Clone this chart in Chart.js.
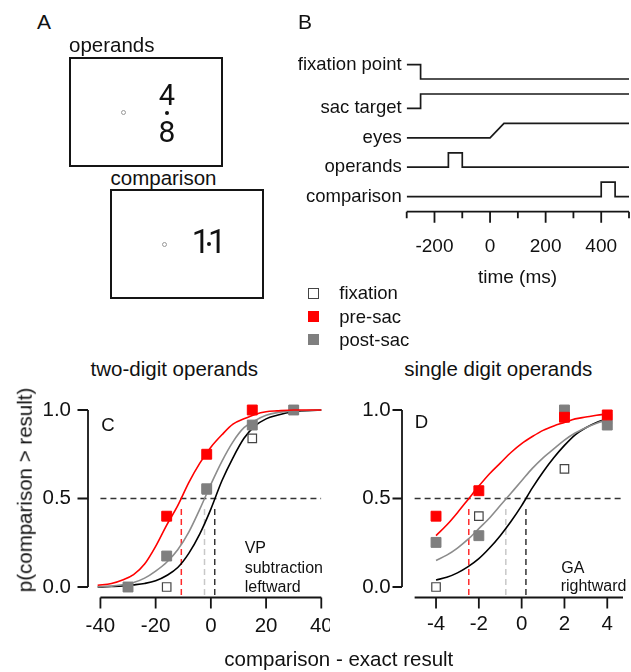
<!DOCTYPE html>
<html>
<head>
<meta charset="utf-8">
<script src="https://cdn.jsdelivr.net/npm/chart.js@4.4.1/dist/chart.umd.min.js"></script>
<style>
  html, body { margin: 0; padding: 0; background: #fff; }
  #page { position: relative; width: 631px; height: 672px; overflow: hidden;
          font-family: "Liberation Sans", Arial, Helvetica, sans-serif; color: #111; }
  #page canvas { position: absolute; }
  .txt { position: absolute; white-space: nowrap; line-height: 1; }
  .digits { font-family: Roboto, "Liberation Sans", sans-serif; }
  .box { position: absolute; border: 2px solid #151515; box-sizing: border-box; }
  .fix { position: absolute; width: 5px; height: 5px; border: 1px solid #999; border-radius: 50%; box-sizing: border-box; }
  .dot { position: absolute; width: 4px; height: 4px; background: #111; border-radius: 50%; }
  .sq { position: absolute; width: 11px; height: 11px; box-sizing: border-box; }
</style>
</head>
<body>
<div id="page">
  <div class="box" style="left:69px; top:57px; width:154px; height:110px;"></div>
  <div class="fix" style="left:121px; top:110px;"></div>
  <div class="dot" style="left:165px; top:111px;"></div>
  <div class="box" style="left:110px; top:189px; width:154px; height:110px;"></div>
  <div class="fix" style="left:162px; top:242px;"></div>
  <div class="dot" style="left:207px; top:242px;"></div>

  <div class="sq" style="left:308px; top:288px; border:1px solid #444; background:#fff;"></div>
  <div class="sq" style="left:308px; top:311px; background:#ff0000;"></div>
  <div class="sq" style="left:308px; top:334px; background:#7f7f7f;"></div>

  <canvas id="chartB" width="351" height="260" style="left:280px; top:30px;"></canvas>
  <canvas id="chartC" width="330" height="250" style="left:0px; top:400px;"></canvas>
  <canvas id="chartD" width="301" height="250" style="left:330px; top:400px;"></canvas>
</div>
<script>
// panel B: timing of each signal (ms) and its on/off state
const signalNames = ['fixation point', 'sac target', 'eyes', 'operands', 'comparison'];
const signalTimes = [
  [-300, -250, -250, 500],
  [-300, -250, -250, 500],
  [-300, 0, 50, 500],
  [-300, -150, -150, -100, -100, 500],
  [-300, 400, 400, 450, 450, 500]
];
const signalStates = [
  [1, 1, 0, 0],
  [0, 0, 1, 1],
  [0, 0, 1, 1],
  [0, 0, 1, 1, 0, 0],
  [0, 0, 1, 1, 0, 0]
];
const timeTicks = [-300, -200, -100, 0, 100, 200, 300, 400, 500];
const timeLabels = [-200, 0, 200, 400];

// panel C: two-digit operands
const diffC = [-30, -16, -1.5, 15, 30];
const fixC = [0.0, 0.0, 0.55, 0.84, 1.0];
const preC = [null, 0.40, 0.75, 1.0, null];
const postC = [0.0, 0.175, 0.555, 0.915, 1.0];
const fitXC = [-41, -36, -32, -28, -24, -20, -16, -12, -8, -4, 0, 4, 8, 12, 16, 20, 24, 30, 40];
const fitFixC = [0.0, 0.003, 0.006, 0.012, 0.02, 0.035, 0.065, 0.11, 0.19, 0.30, 0.44, 0.60, 0.73, 0.84, 0.91, 0.95, 0.97, 0.99, 1.0];
const fitPostC = [0.002, 0.005, 0.013, 0.025, 0.05, 0.09, 0.14, 0.21, 0.31, 0.44, 0.58, 0.71, 0.82, 0.90, 0.94, 0.97, 0.985, 0.995, 1.0];
const fitPreC = [0.01, 0.02, 0.04, 0.07, 0.13, 0.23, 0.35, 0.46, 0.59, 0.70, 0.79, 0.86, 0.92, 0.95, 0.975, 0.99, 0.995, 1.0, 1.0];
const pseC = [1.4, -10.7, -2.3]; // fixation, pre-sac, post-sac
const xTicksC = [-40, -20, 0, 20, 40];

// panel D: single digit operands
const diffD = [-4, -2, 2, 4];
const fixD = [0.0, 0.40, 0.667, 0.95];
const preD = [0.40, 0.544, 0.959, 0.972];
const postD = [0.252, 0.29, 1.0, 0.915];
const fitXD = [-4, -3.5, -3, -2.5, -2, -1.5, -1, -0.5, 0, 0.5, 1, 1.5, 2, 2.5, 3, 3.5, 4];
const fitFixD = [0.04, 0.055, 0.08, 0.115, 0.16, 0.22, 0.29, 0.37, 0.46, 0.56, 0.65, 0.73, 0.80, 0.86, 0.90, 0.93, 0.95];
const fitPostD = [0.15, 0.18, 0.22, 0.27, 0.33, 0.39, 0.46, 0.53, 0.60, 0.67, 0.73, 0.78, 0.83, 0.87, 0.90, 0.925, 0.945];
const fitPreD = [0.29, 0.35, 0.42, 0.495, 0.57, 0.64, 0.70, 0.76, 0.81, 0.85, 0.885, 0.91, 0.93, 0.95, 0.96, 0.97, 0.978];
const pseD = [0.2, -2.47, -0.74];
const xTicksD = [-4, -2, 0, 2, 4];

const pTicks = [0, 0.5, 1];
const chance = 0.5;

const page = document.getElementById('page');

// text placed by its baseline; centred text sits in a fixed box so no transform is needed
function label(text, x, base, size, align, cls, extra) {
  const d = document.createElement('div');
  d.className = 'txt' + (cls ? ' ' + cls : '');
  d.textContent = text;
  d.style.fontSize = size + 'px';
  d.style.top = (base - 0.8465 * size) + 'px';
  if (align == 'center') {
    d.style.left = (x - 200) + 'px';
    d.style.width = '400px';
    d.style.textAlign = 'center';
  } else {
    d.style.left = x + 'px';
  }
  if (extra) Object.assign(d.style, extra);
  page.appendChild(d);
  return d;
}

label('A', 37, 28.3, 21);
label('B', 298, 28.3, 21);
label('operands', 69, 52, 20.5);
label('4', 167, 106, 29, 'center', 'digits');
label('8', 167, 142, 30, 'center', 'digits');
label('comparison', 110.5, 185, 20.5);
label('11', 208, 253.5, 32.5, 'center', 'digits', {letterSpacing: '-2px'});
label('fixation', 339.3, 300, 18.5);
label('pre-sac', 339.3, 323.3, 18.5);
label('post-sac', 339.3, 346.7, 18.5);
label('time (ms)', 517.5, 283.3, 19, 'center');
label('two-digit operands', 174.3, 376.7, 20.5, 'center');
label('single digit operands', 498.3, 376, 20.5, 'center');
label('C', 101.3, 431.7, 18.6);
label('D', 414.7, 428.3, 18.6);
label('VP', 244.7, 554, 16);
label('subtraction', 244.7, 573.3, 16);
label('leftward', 244.7, 592.7, 16);
label('GA', 561.3, 573.3, 16);
label('rightward', 560.7, 591.7, 16);
label('comparison - exact result', 338.8, 666.5, 20.5, 'center');
const yl = document.createElement('div');
yl.className = 'txt';
yl.textContent = 'p(comparison > result)';
Object.assign(yl.style, {fontSize: '20.5px', left: '24.6px', top: '490px', transform: 'translate(-50%,-50%) rotate(-90deg)'});
page.appendChild(yl);

Chart.defaults.font.family = '"Liberation Sans", Arial, Helvetica, sans-serif';
Chart.defaults.color = '#111';

// offset axes drawn from the scales
function axesPlugin(cfg) {
  return {
    id: 'igorAxes',
    beforeDatasetsDraw(chart) {
      const ctx = chart.ctx, a = chart.chartArea, xs = chart.scales.x, ys = chart.scales.y;
      ctx.save();
      ctx.strokeStyle = '#151515';
      ctx.lineWidth = 1.8;
      ctx.beginPath();
      if (cfg.x) {
        const yb = a.bottom;
        ctx.moveTo(xs.getPixelForValue(cfg.x.from), yb);
        ctx.lineTo(xs.getPixelForValue(cfg.x.to), yb);
        cfg.x.ticks.forEach(function (v) {
          const px = xs.getPixelForValue(v);
          const len = cfg.x.major.includes(v) ? cfg.x.len : cfg.x.minorLen;
          ctx.moveTo(px, yb);
          ctx.lineTo(px, yb + len);
        });
      }
      if (cfg.y) {
        const xl = a.left;
        ctx.moveTo(xl, ys.getPixelForValue(cfg.y.from));
        ctx.lineTo(xl, ys.getPixelForValue(cfg.y.to));
        cfg.y.ticks.forEach(function (v) {
          const py = ys.getPixelForValue(v);
          ctx.moveTo(xl, py);
          ctx.lineTo(xl - cfg.y.len, py);
        });
      }
      ctx.stroke();
      ctx.restore();
    }
  };
}

function pts(xs, ys) {
  return xs.map((x, i) => ({x: x, y: ys[i]})).filter(p => p.y !== null);
}
function markers(xs, ys, fill, edge, r, bw, order) {
  return {data: pts(xs, ys), showLine: false, pointStyle: 'rect', pointRadius: r,
          pointBackgroundColor: fill, pointBorderColor: edge, pointBorderWidth: bw, order: order, clip: false};
}
function curve(xs, ys, color, order) {
  return {data: pts(xs, ys), borderColor: color, borderWidth: 1.6, pointRadius: 0,
          cubicInterpolationMode: 'monotone', order: order, clip: false};
}
function dashed(points, color, order) {
  return {data: points, borderColor: color, borderWidth: 1.5, borderDash: [6, 4], pointRadius: 0, order: order};
}

// panel B
const AMP = 0.49;
const traces = signalTimes.map((ts, i) => ts.map((t, j) => ({x: t, y: -i + AMP * signalStates[i][j]})));
new Chart(document.getElementById('chartB'), {
  type: 'line',
  data: {datasets: traces.map(d => ({data: d, borderColor: '#1a1a1a', borderWidth: 1.7, pointRadius: 0, tension: 0}))},
  options: {
    responsive: false, animation: false, devicePixelRatio: 1,
    layout: {padding: {top: 19.6, right: 2, bottom: 0, left: 0}},
    plugins: {legend: {display: false}, tooltip: {enabled: false}},
    scales: {
      x: {type: 'linear', min: -300, max: 500,
          grid: {display: false, drawTicks: false}, border: {display: false},
          afterBuildTicks: s => { s.ticks = timeTicks.map(v => ({value: v})); },
          afterFit: s => { s.height = 78.3; s.paddingLeft = 0; s.paddingRight = 0; },
          ticks: {autoSkip: false, maxRotation: 0, padding: 23.6, font: {size: 19}, color: '#111',
                  callback: v => timeLabels.includes(v) ? String(v) : ''}},
      y: {type: 'linear', min: -4.514, max: 1,
          grid: {display: false, drawTicks: false}, border: {display: false},
          afterBuildTicks: s => { s.ticks = traces.map(d => ({value: d[0].y})); },
          afterFit: s => { s.width = 126.7; s.paddingTop = 0; s.paddingBottom = 0; },
          ticks: {autoSkip: false, padding: 5, font: {size: 18.5}, color: '#111',
                  callback: (v, i) => signalNames[i]}}
    }
  },
  plugins: [axesPlugin({x: {from: -300, to: 500, ticks: timeTicks, major: timeLabels, len: 11, minorLen: 6.5}})]
});

// panels C and D
function psychChart(id, p) {
  const ymin = -0.0593;
  const vline = x => [{x: x, y: 0.44}, {x: x, y: ymin}];
  new Chart(document.getElementById(id), {
    type: 'line',
    data: {datasets: [
      markers(p.xs, p.pre, '#ff0000', '#ff0000', 7, 1, 0),
      curve(p.fitX, p.fitPre, '#ff0000', 1),
      markers(p.xs, p.post, '#7f7f7f', '#7f7f7f', 7, 1, 2),
      curve(p.fitX, p.fitPost, '#8c8c8c', 3),
      markers(p.xs, p.fix, '#ffffff', '#444444', 6, 1.2, 4),
      curve(p.fitX, p.fitFix, '#000000', 5),
      dashed(vline(p.pse[1]), '#ff2a2a', 6),
      dashed(vline(p.pse[2]), '#c8c8c8', 6),
      dashed(vline(p.pse[0]), '#333333', 6),
      dashed([{x: p.axisFrom, y: chance}, {x: p.axisTo, y: chance}], '#333333', 7)
    ]},
    options: {
      responsive: false, animation: false, devicePixelRatio: 1,
      layout: {padding: {top: 10, right: p.padRight, bottom: 0, left: 0}},
      plugins: {legend: {display: false}, tooltip: {enabled: false}},
      scales: {
        x: {type: 'linear', min: p.xmin, max: p.xmax,
            grid: {display: false, drawTicks: false}, border: {display: false},
            afterBuildTicks: s => { s.ticks = p.xTicks.map(v => ({value: v})); },
            afterFit: s => { s.height = 52.5; s.paddingLeft = 0; s.paddingRight = 0; },
            ticks: {autoSkip: false, maxRotation: 0, padding: p.xPad, font: {size: 20.5}, color: '#111',
                    callback: v => String(v)}},
        y: {type: 'linear', min: ymin, max: 1,
            grid: {display: false, drawTicks: false}, border: {display: false},
            afterBuildTicks: s => { s.ticks = pTicks.map(v => ({value: v})); },
            afterFit: s => { s.width = p.left; s.paddingTop = 0; s.paddingBottom = 0; },
            ticks: {autoSkip: false, padding: p.yPad, font: {size: 20.5}, color: '#111',
                    callback: v => v.toFixed(1)}}
      }
    },
    plugins: [axesPlugin({
      x: {from: p.axisFrom, to: p.axisTo, ticks: p.xTicks, major: p.xTicks, len: 11, minorLen: 6},
      y: {from: 0, to: 1, ticks: pTicks, len: p.yTickLen}
    })]
  });
}

psychChart('chartC', {
  xs: diffC, pre: preC, post: postC, fix: fixC,
  fitX: fitXC, fitPre: fitPreC, fitPost: fitPostC, fitFix: fitFixC, pse: pseC,
  xTicks: xTicksC, xmin: -44.5, xmax: 40, axisFrom: -40, axisTo: 40,
  left: 88, padRight: 8.7, xPad: 16.5, yPad: 17, yTickLen: 10.5
});
psychChart('chartD', {
  xs: diffD, pre: preD, post: postD, fix: fixD,
  fitX: fitXD, fitPre: fitPreD, fitPost: fitPostD, fitFix: fitFixD, pse: pseD,
  xTicks: xTicksD, xmin: -5.59, xmax: 4.735, axisFrom: -5, axisTo: 4.735,
  left: 72, padRight: 0, xPad: 15, yPad: 11.3, yTickLen: 9.5
});
</script>
</body>
</html>
